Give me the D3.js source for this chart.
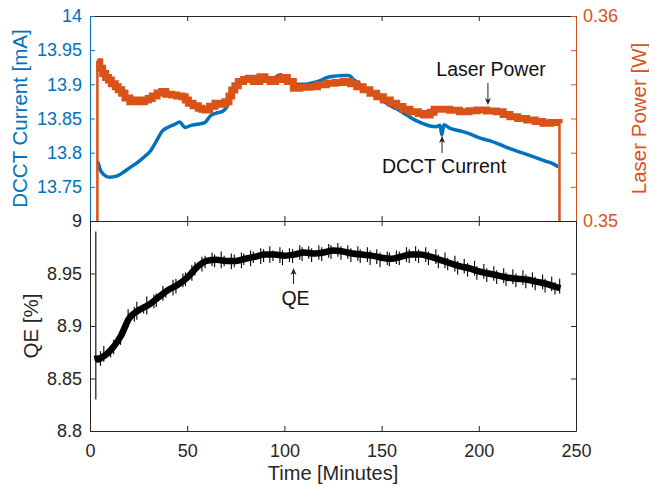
<!DOCTYPE html>
<html>
<head>
<meta charset="utf-8">
<script src="https://cdn.jsdelivr.net/npm/d3@7"></script>
<style>
    body { margin: 0; background: #fff; }
    svg { font-family: "Liberation Sans", Arial, sans-serif; }
</style>
</head>
<body>
<svg id="chart" width="649" height="486"></svg>
<script>
// DCCT current [mA] vs time [min]
const dcctSeries = [
    [4, 13.787], [5, 13.777], [7, 13.768], [10, 13.764], [14, 13.766], [17, 13.771], [20, 13.777],
    [25, 13.787], [28, 13.794], [31, 13.802], [34, 13.816], [37, 13.831], [40, 13.837], [44, 13.842],
    [46, 13.845], [49, 13.837], [52, 13.840], [56, 13.842], [59, 13.844], [62, 13.854], [65, 13.858],
    [68, 13.860], [71, 13.870], [73, 13.885], [75, 13.893], [78, 13.904], [82, 13.906], [86, 13.905],
    [90, 13.906], [94, 13.908], [98, 13.914], [102, 13.905], [106, 13.900], [110, 13.900], [114, 13.902],
    [118, 13.905], [122, 13.910], [126, 13.912], [130, 13.913], [133, 13.913], [136, 13.906], [139, 13.900],
    [143, 13.892], [147, 13.884], [151, 13.875], [155, 13.868], [159, 13.862], [163, 13.855], [167, 13.848],
    [171, 13.843], [175, 13.839], [178, 13.838], [180, 13.840], [181, 13.826], [182, 13.841], [185, 13.836],
    [190, 13.832], [195, 13.828], [200, 13.822], [205, 13.818], [210, 13.813], [215, 13.807], [220, 13.802],
    [225, 13.797], [230, 13.792], [235, 13.787], [238, 13.784], [241, 13.779]
];

// Laser power [W] vs time [min]
const laserSeries = [
    [3.6, 0.3500], [3.8, 0.35777], [5, 0.35745], [6.5, 0.35720], [8, 0.35700], [9.5, 0.35688], [11, 0.35670],
    [13, 0.35655], [14.5, 0.35640], [16.3, 0.35623], [18, 0.35600], [20.5, 0.35582], [23, 0.35590],
    [25.7, 0.35582], [28, 0.35590], [30, 0.35598], [32, 0.35610], [34.5, 0.35625], [36.9, 0.35632],
    [39, 0.35618], [42, 0.35615], [44.5, 0.35610], [47.2, 0.35606], [49, 0.35590], [50.6, 0.35574],
    [53, 0.35562], [55.7, 0.35550], [57.5, 0.35545], [59.2, 0.35541], [61.5, 0.35560], [64.3, 0.35574],
    [67, 0.35570], [69.4, 0.35582], [71.5, 0.35610], [72.9, 0.35639], [74.5, 0.35660], [76.3, 0.35680],
    [79, 0.35690], [81.4, 0.35696], [84, 0.35680], [87.4, 0.35704], [90, 0.35690], [92.6, 0.35680],
    [95.5, 0.35690], [98.6, 0.35700], [101.5, 0.35680], [104.6, 0.35647], [108, 0.35652], [113, 0.35655],
    [117, 0.35665], [121.7, 0.35672], [126, 0.35676], [130.3, 0.35680], [134, 0.35670], [137.2, 0.35655],
    [140.5, 0.35640], [144, 0.35623], [147.5, 0.35606], [150.9, 0.35590], [154.5, 0.35574], [157.8, 0.35558],
    [161, 0.35545], [164.6, 0.35533], [168.9, 0.35525], [171.5, 0.35517], [175, 0.35530], [177, 0.35545],
    [180, 0.35545], [185, 0.35540], [190, 0.35533], [195, 0.35538], [199, 0.35541], [204, 0.35536],
    [209, 0.35533], [212.5, 0.35520], [216, 0.35509], [220, 0.35500], [224.6, 0.35493], [229, 0.35485],
    [233, 0.35477], [237, 0.35480], [241.3, 0.35477], [241.5, 0.3500]
];

// QE [%] trend
const qeSeries = [
    [3.6, 8.872], [4, 8.868], [6, 8.870], [9, 8.874], [12, 8.880], [16, 8.891], [20, 8.907], [25, 8.915],
    [30, 8.920], [35, 8.927], [40, 8.934], [45, 8.939], [50, 8.946], [55, 8.956], [60, 8.962], [65, 8.963],
    [70, 8.962], [75, 8.962], [80, 8.964], [85, 8.966], [90, 8.968], [95, 8.968], [100, 8.967], [105, 8.968],
    [110, 8.970], [115, 8.969], [120, 8.970], [125, 8.972], [130, 8.971], [135, 8.969], [140, 8.968],
    [145, 8.967], [150, 8.965], [155, 8.964], [160, 8.966], [165, 8.968], [170, 8.968], [175, 8.966],
    [180, 8.963], [185, 8.960], [190, 8.957], [195, 8.955], [200, 8.952], [205, 8.950], [210, 8.948],
    [215, 8.946], [220, 8.945], [225, 8.944], [230, 8.942], [235, 8.940], [240, 8.937], [242, 8.936]
];
// QE noise spikes: [t, low, high]
const qeSpikes = [
    [3, 8.83, 8.99],
    [5.4, 8.862, 8.876], [7.1, 8.866, 8.881], [10.6, 8.870, 8.880], [12.2, 8.873, 8.887], [15.7, 8.882, 8.896],
    [17.3, 8.889, 8.903], [19.6, 8.899, 8.916], [22.8, 8.904, 8.918], [24.1, 8.906, 8.923], [27.6, 8.912, 8.921],
    [29.2, 8.911, 8.928], [32.9, 8.917, 8.930], [34.1, 8.918, 8.931], [37.5, 8.924, 8.938], [39.0, 8.927, 8.936],
    [42.7, 8.929, 8.944], [44.2, 8.931, 8.945], [47.8, 8.937, 8.950], [49.1, 8.938, 8.951], [52.4, 8.943, 8.958],
    [54.0, 8.948, 8.961], [57.6, 8.952, 8.966], [59.2, 8.955, 8.967], [62.8, 8.957, 8.970], [64.1, 8.956, 8.968],
    [67.5, 8.955, 8.971], [69.0, 8.957, 8.967], [72.7, 8.954, 8.969], [74.2, 8.956, 8.968], [77.9, 8.955, 8.970],
    [79.1, 8.958, 8.969], [82.6, 8.957, 8.972], [84.0, 8.960, 8.971], [87.8, 8.959, 8.974], [89.3, 8.961, 8.973],
    [92.5, 8.960, 8.976], [94.1, 8.962, 8.972], [97.7, 8.960, 8.975], [99.0, 8.958, 8.972], [102.6, 8.961, 8.974],
    [104.2, 8.960, 8.973], [107.9, 8.963, 8.977], [109.1, 8.962, 8.975], [112.5, 8.964, 8.976], [114.0, 8.961, 8.974],
    [117.7, 8.963, 8.977], [119.2, 8.962, 8.975], [122.8, 8.965, 8.978], [124.0, 8.964, 8.977], [127.5, 8.966, 8.979],
    [129.1, 8.963, 8.976], [132.6, 8.964, 8.977], [134.2, 8.961, 8.974], [137.8, 8.962, 8.976], [139.0, 8.960, 8.973],
    [142.7, 8.961, 8.975], [144.1, 8.958, 8.972], [147.5, 8.959, 8.973], [149.2, 8.956, 8.970], [152.9, 8.958, 8.971],
    [154.0, 8.957, 8.970], [157.6, 8.959, 8.972], [159.1, 8.958, 8.971], [162.8, 8.961, 8.975], [164.2, 8.960, 8.973],
    [167.5, 8.962, 8.976], [169.0, 8.960, 8.973], [172.7, 8.961, 8.975], [174.1, 8.958, 8.971], [177.9, 8.959, 8.973],
    [179.2, 8.955, 8.968], [182.6, 8.955, 8.970], [184.0, 8.953, 8.965], [187.7, 8.952, 8.967], [189.1, 8.949, 8.962],
    [192.5, 8.950, 8.964], [194.2, 8.947, 8.960], [197.8, 8.948, 8.962], [199.0, 8.944, 8.957], [202.6, 8.945, 8.959],
    [204.1, 8.942, 8.955], [207.7, 8.943, 8.957], [209.2, 8.940, 8.953], [212.8, 8.941, 8.955], [214.0, 8.938, 8.951],
    [217.5, 8.940, 8.954], [219.1, 8.937, 8.950], [222.7, 8.939, 8.953], [224.2, 8.936, 8.949], [227.6, 8.937, 8.951],
    [229.0, 8.934, 8.947], [232.8, 8.935, 8.949], [234.1, 8.932, 8.945], [237.5, 8.933, 8.947], [239.2, 8.930, 8.942],
    [241.6, 8.931, 8.945]
];

// ticks
const timeTicks = [0, 50, 100, 150, 200, 250];
const dcctTicks = [13.7, 13.75, 13.8, 13.85, 13.9, 13.95, 14];
const dcctLabels = ["", "13.75", "13.8", "13.85", "13.9", "13.95", "14"];
const laserTicks = [0.35, 0.351667, 0.353333, 0.355, 0.356667, 0.358333, 0.36];
const laserLabels = ["0.35", "", "", "", "", "", "0.36"];
const qeTicks = [8.8, 8.85, 8.9, 8.95, 9];
const qeLabels = ["8.8", "8.85", "8.9", "8.95", "9"];

const BLUE = "#0072BD", ORANGE = "#D95319", DARK = "#262626";

const svg = d3.select("#chart");
const left = 90, right = 576, topY = 16, midY = 221, botY = 431;

const x = d3.scaleLinear().domain([0, 250]).range([left, right]);
const yDcct = d3.scaleLinear().domain([13.7, 14]).range([midY, topY]);
const yLaser = d3.scaleLinear().domain([0.35, 0.36]).range([midY, topY]);
const yQe = d3.scaleLinear().domain([8.8, 9.0]).range([botY, midY]);

svg.append("clipPath").attr("id", "clipTop").append("rect")
    .attr("x", left).attr("y", topY).attr("width", right - left).attr("height", midY - topY);
svg.append("clipPath").attr("id", "clipBot").append("rect")
    .attr("x", left).attr("y", midY).attr("width", right - left).attr("height", botY - midY);

// ---- lines ----
const topPanel = svg.append("g").attr("clip-path", "url(#clipTop)");
topPanel.append("path")
    .datum(dcctSeries)
    .attr("d", d3.line().curve(d3.curveMonotoneX).x(d => x(d[0])).y(d => yDcct(d[1])))
    .attr("fill", "none").attr("stroke", BLUE).attr("stroke-width", 3.5)
    .attr("stroke-linejoin", "round");

const laserLine = d3.line().curve(d3.curveStepAfter).x(d => x(d[0])).y(d => yLaser(d[1]));
topPanel.append("path")
    .datum(laserSeries)
    .attr("d", laserLine)
    .attr("fill", "none").attr("stroke", ORANGE).attr("stroke-width", 2.5);
topPanel.append("path")
    .datum(laserSeries.filter(d => d[1] > 0.3505))
    .attr("d", laserLine)
    .attr("fill", "none").attr("stroke", ORANGE).attr("stroke-width", 7);

const botPanel = svg.append("g").attr("clip-path", "url(#clipBot)");
botPanel.append("path")
    .datum(qeSeries)
    .attr("d", d3.line().curve(d3.curveMonotoneX).x(d => x(d[0])).y(d => yQe(d[1])))
    .attr("fill", "none").attr("stroke", "#000").attr("stroke-width", 6.5)
    .attr("stroke-linejoin", "round");
botPanel.selectAll("line.spike")
    .data(qeSpikes)
    .join("line")
    .attr("class", "spike")
    .attr("x1", d => x(d[0])).attr("x2", d => x(d[0]))
    .attr("y1", d => yQe(d[1])).attr("y2", d => yQe(d[2]))
    .attr("stroke", "#000").attr("stroke-width", 1.1);

// ---- axes ----
function styleAxis(g, color, fontSize) {
    g.selectAll(".domain").attr("stroke", color);
    g.selectAll(".tick line").attr("stroke", color);
    g.selectAll(".tick text").attr("fill", color)
        .style("font-size", fontSize + "px").style("font-family", "Liberation Sans, Arial, sans-serif");
}

// top panel
svg.append("g").attr("transform", `translate(0,${topY})`)
    .call(d3.axisTop(x).tickValues(timeTicks).tickFormat("").tickSizeInner(-5).tickSizeOuter(0))
    .call(g => styleAxis(g, DARK, 18));
svg.append("g").attr("transform", `translate(0,${midY})`)
    .call(d3.axisBottom(x).tickValues(timeTicks).tickFormat("").tickSizeInner(-5).tickSizeOuter(0))
    .call(g => styleAxis(g, DARK, 18));
svg.append("g").attr("transform", `translate(${left},0)`)
    .call(d3.axisLeft(yDcct).tickValues(dcctTicks).tickFormat((d, i) => dcctLabels[i])
        .tickSizeInner(-5).tickSizeOuter(0).tickPadding(8))
    .call(g => styleAxis(g, BLUE, 18));
svg.append("g").attr("transform", `translate(${right},0)`)
    .call(d3.axisRight(yLaser).tickValues(laserTicks).tickFormat((d, i) => laserLabels[i])
        .tickSizeInner(-5).tickSizeOuter(0).tickPadding(7))
    .call(g => styleAxis(g, ORANGE, 18));

// bottom panel
svg.append("g").attr("transform", `translate(0,${midY})`)
    .call(d3.axisTop(x).tickValues(timeTicks).tickFormat("").tickSizeInner(-5).tickSizeOuter(0))
    .call(g => styleAxis(g, DARK, 18));
svg.append("g").attr("transform", `translate(0,${botY})`)
    .call(d3.axisBottom(x).tickValues(timeTicks).tickFormat(d3.format("d"))
        .tickSizeInner(-5).tickSizeOuter(0).tickPadding(13))
    .call(g => styleAxis(g, DARK, 18));
svg.append("g").attr("transform", `translate(${left},0)`)
    .call(d3.axisLeft(yQe).tickValues(qeTicks).tickFormat((d, i) => qeLabels[i])
        .tickSizeInner(-5).tickSizeOuter(0).tickPadding(8))
    .call(g => styleAxis(g, DARK, 18));
svg.append("g").attr("transform", `translate(${right},0)`)
    .call(d3.axisRight(yQe).tickValues(qeTicks).tickFormat("").tickSizeInner(-5).tickSizeOuter(0))
    .call(g => styleAxis(g, DARK, 18));

// ---- axis titles ----
svg.append("text")
    .attr("transform", `translate(26.5,${(topY + midY) / 2}) rotate(-90)`)
    .attr("text-anchor", "middle").attr("fill", BLUE).style("font-size", "20.5px")
    .text("DCCT Current [mA]");
svg.append("text")
    .attr("transform", `translate(646,${(topY + midY) / 2}) rotate(-90)`)
    .attr("text-anchor", "middle").attr("fill", ORANGE).style("font-size", "20.5px")
    .text("Laser Power [W]");
svg.append("text")
    .attr("transform", `translate(38,${(midY + botY) / 2}) rotate(-90)`)
    .attr("text-anchor", "middle").attr("fill", DARK).style("font-size", "20.5px")
    .text("QE [%]");
svg.append("text")
    .attr("x", (left + right) / 2).attr("y", 480)
    .attr("text-anchor", "middle").attr("fill", DARK).style("font-size", "20px")
    .text("Time [Minutes]");

// ---- annotations (data coords: text at tx,ty; arrow from ay0 to tip ay1) ----
const annotations = [
    { text: "Laser Power", y: yLaser, tx: 206.3, ty: 0.35707, ax: 204.7, ay0: 0.35673, ay1: 0.35566 },
    { text: "DCCT Current", y: yDcct, tx: 182.1, ty: 13.7702, ax: 181.1, ay0: 13.7995, ay1: 13.8244 },
    { text: "QE", y: yQe, tx: 105.7, ty: 8.92, ax: 104.7, ay0: 8.94, ay1: 8.9552 }
];

annotations.forEach(a => {
    svg.append("text")
        .attr("x", x(a.tx)).attr("y", a.y(a.ty))
        .attr("text-anchor", "middle").attr("fill", "#111").style("font-size", "19.5px")
        .text(a.text);
    const ax = x(a.ax), y0 = a.y(a.ay0), y1 = a.y(a.ay1);
    const dir = y1 > y0 ? 1 : -1;
    svg.append("line")
        .attr("x1", ax).attr("x2", ax).attr("y1", y0).attr("y2", y1 - dir * 2)
        .attr("stroke", "#222").attr("stroke-width", 1);
    svg.append("path")
        .attr("d", `M${ax},${y1}L${ax - 3},${y1 - dir * 7}L${ax},${y1 - dir * 5}L${ax + 3},${y1 - dir * 7}Z`)
        .attr("fill", "#222");
});
</script>
</body>
</html>
